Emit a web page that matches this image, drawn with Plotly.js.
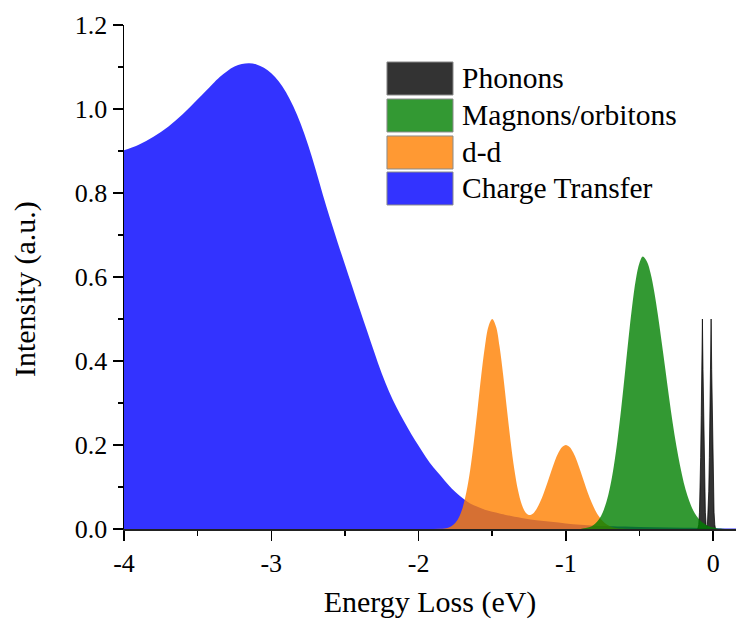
<!DOCTYPE html>
<html>
<head>
<meta charset="utf-8">
<script src="https://cdn.plot.ly/plotly-3.0.1.min.js"></script>
<style>html,body{margin:0;padding:0;background:#fff;}#chart{width:736px;height:619px;}</style>
</head>
<body>
<div id="chart"></div>
<script>
// Charge Transfer
const ctX = [-4.0,-3.9,-3.8,-3.7,-3.6,-3.5,-3.4,-3.35,-3.3,-3.25,-3.2,-3.15,-3.1,-3.05,-3.0,-2.95,-2.9,-2.85,-2.8,-2.75,-2.7,-2.65,-2.6,-2.55,-2.5,-2.45,-2.4,-2.35,-2.3,-2.25,-2.2,-2.15,-2.1,-2.05,-2.0,-1.95,-1.9,-1.85,-1.8,-1.75,-1.7,-1.65,-1.6,-1.55,-1.5,-1.45,-1.4,-1.3,-1.2,-1.1,-1.0,-0.9,-0.8,-0.6,-0.4,-0.2,0.0,0.155];
const ctY = [0.902,0.915,0.934,0.958,0.988,1.023,1.059,1.076,1.090,1.101,1.107,1.109,1.106,1.098,1.085,1.066,1.040,1.006,0.964,0.914,0.857,0.796,0.738,0.683,0.630,0.577,0.524,0.472,0.420,0.370,0.327,0.290,0.257,0.226,0.198,0.171,0.147,0.127,0.106,0.088,0.073,0.061,0.053,0.046,0.041,0.037,0.033,0.026,0.021,0.017,0.013,0.010,0.008,0.006,0.004,0.003,0.002,0.001];

// d-d
const ddX = [-1.9,-1.85,-1.825,-1.8,-1.775,-1.75,-1.725,-1.7,-1.675,-1.65,-1.625,-1.6,-1.575,-1.55,-1.525,-1.5,-1.475,-1.45,-1.425,-1.4,-1.375,-1.35,-1.325,-1.3,-1.275,-1.25,-1.225,-1.2,-1.175,-1.15,-1.125,-1.1,-1.075,-1.05,-1.025,-1.0,-0.975,-0.95,-0.925,-0.9,-0.875,-0.85,-0.825,-0.8,-0.775,-0.75,-0.725,-0.7,-0.675,-0.65,-0.625,-0.6,-0.55];
const ddY = [0,0.0005,0.0013,0.0031,0.0069,0.0146,0.0285,0.052,0.0884,0.140,0.207,0.284,0.364,0.434,0.483,0.5,0.483,0.434,0.364,0.2845,0.208,0.142,0.092,0.059,0.040,0.0334,0.0364,0.0472,0.064,0.086,0.111,0.137,0.162,0.182,0.195,0.2,0.195,0.182,0.162,0.137,0.111,0.0854,0.0628,0.0441,0.0295,0.0188,0.0115,0.0067,0.0037,0.002,0.001,0.0005,0];

// Magnons/orbitons
const mgX = [-0.9,-0.878,-0.85,-0.825,-0.8,-0.775,-0.75,-0.725,-0.7,-0.675,-0.65,-0.625,-0.6,-0.575,-0.55,-0.525,-0.5,-0.478,-0.45,-0.425,-0.4,-0.375,-0.35,-0.325,-0.3,-0.275,-0.25,-0.225,-0.2,-0.175,-0.15,-0.125,-0.1,-0.075,-0.05,-0.025,0.0,0.025,0.05,0.08];
const mgY = [0,0.0015,0.0035,0.0068,0.0128,0.023,0.0394,0.064,0.100,0.149,0.211,0.285,0.368,0.453,0.531,0.594,0.634,0.649,0.637,0.609,0.565,0.509,0.446,0.381,0.315,0.253,0.198,0.151,0.111,0.0795,0.0554,0.0376,0.0248,0.0159,0.0099,0.006,0.0035,0.002,0.001,0];

// Phonons
const phX = [-0.105,-0.098,-0.093,-0.089,-0.085,-0.081,-0.077,-0.073,-0.069,-0.065,-0.061,-0.057,-0.053,-0.048,-0.0435,-0.039,-0.034,-0.030,-0.026,-0.022,-0.018,-0.014,-0.010,-0.006,-0.002,0.002,0.006,0.011,0.016];
const phY = [0,0.01,0.04,0.09,0.17,0.27,0.38,0.5,0.38,0.27,0.17,0.09,0.04,0.01,0.004,0.01,0.04,0.09,0.17,0.27,0.38,0.5,0.38,0.27,0.17,0.09,0.04,0.01,0];

// tick labels
const xTickVals = [-4,-3,-2,-1,0];
const xTickText = ['-4','-3','-2','-1','0'];
const yTickVals = [0,0.2,0.4,0.6,0.8,1.0,1.2];
const yTickText = ['0.0','0.2','0.4','0.6','0.8','1.0','1.2'];

const names = ['Phonons','Magnons/orbitons','d-d','Charge Transfer'];
const colors = ['rgba(0,0,0,0.8)','rgba(0,128,0,0.8)','rgba(255,127,0,0.8)','rgba(0,0,255,0.8)'];

const serif = 'Liberation Serif, Times New Roman, serif';

function area(x, y, name, color, shape, lw, lc) {
  return {x: x, y: y, name: name, type: 'scatter', mode: 'lines',
    line: {width: lw, shape: shape, smoothing: 1, color: lc},
    fill: 'tozeroy', fillcolor: color, hoverinfo: 'x+y+name', showlegend: false};
}

const traces = [
  area(ctX, ctY, names[3], colors[3], 'spline', 0, colors[3]),
  area(ddX, ddY, names[2], colors[2], 'spline', 0, colors[2]),
  area(phX, phY, names[0], colors[0], 'linear', 0.8, 'rgba(0,0,0,0.9)'),
  area(mgX, mgY, names[1], colors[1], 'spline', 0, colors[1])
];

// manual legend (large swatches)
const legX0 = 0.4297, legX1 = 0.5376, legTextX = 0.549;
const legRows = [[0.8611,0.9266],[0.7877,0.8532],[0.7143,0.7798],[0.6429,0.7083]];
const shapes = [], annotations = [];
legRows.forEach((r, i) => {
  shapes.push({type:'rect', xref:'paper', yref:'paper', x0:legX0, x1:legX1, y0:r[0], y1:r[1],
    fillcolor: colors[i], line:{color:'#8a8a8a', width:1}, layer:'above'});
  annotations.push({xref:'paper', yref:'paper', x:legTextX, y:(r[0]+r[1])/2, xanchor:'left', yanchor:'middle',
    text: names[i], showarrow:false, font:{family:serif, size:29.5, color:'#000'}});
});
// y axis title placed like the original
annotations.push({xref:'paper', yref:'paper', x:-0.1618, y:0.476, xanchor:'center', yanchor:'middle',
  textangle:-90, text:'Intensity (a.u.)', showarrow:false, font:{family:serif, size:30, color:'#000'}});

const layout = {
  width: 736, height: 619,
  margin: {l:124, r:0, t:25, b:90},
  paper_bgcolor:'#fff', plot_bgcolor:'#fff',
  showlegend:false,
  font:{family:serif, color:'#000'},
  xaxis: {range:[-4, 0.155], tickmode:'array', tickvals:xTickVals, ticktext:xTickText,
    ticks:'outside', ticklen:10, tickwidth:1.5, tickcolor:'#000',
    minor:{dtick:0.5, tick0:0, ticks:'outside', ticklen:5, tickwidth:1.5, tickcolor:'#000'},
    showline:true, linecolor:'#222', linewidth:1.5, showgrid:false, zeroline:false,
    tickfont:{family:serif, size:26, color:'#000'},
    title:{text:'Energy Loss (eV)', font:{family:serif, size:30, color:'#000'}, standoff:18}},
  yaxis: {range:[0,1.2], tickmode:'array', tickvals:yTickVals, ticktext:yTickText,
    ticks:'outside', ticklen:10, tickwidth:1.5, tickcolor:'#000',
    minor:{dtick:0.1, tick0:0, ticks:'outside', ticklen:5, tickwidth:1.5, tickcolor:'#000'},
    showline:true, linecolor:'#000', linewidth:1.5, showgrid:false, zeroline:false,
    tickfont:{family:serif, size:26, color:'#000'}},
  shapes: shapes,
  annotations: annotations
};

Plotly.newPlot('chart', traces, layout, {displayModeBar:false, staticPlot:true});
</script>
</body>
</html>
